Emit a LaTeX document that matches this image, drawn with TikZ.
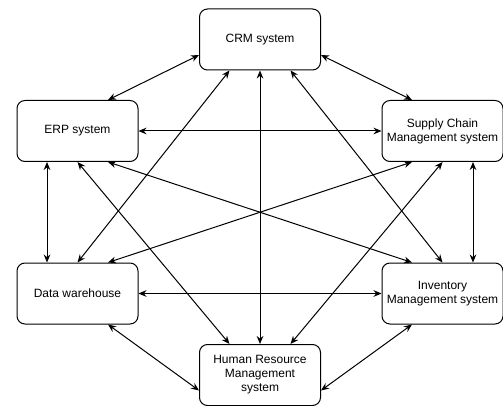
\documentclass[tikz,border=0pt]{standalone}
\usepackage{fontspec}
\setmainfont{Liberation Sans}
\usetikzlibrary{arrows.meta,calc}

\begin{document}
\begin{tikzpicture}[x=0.75pt,y=-0.75pt,line width=0.75pt,
  sysbox/.style={draw, rounded corners=6pt, minimum width=90.75pt, minimum height=45.75pt,
    align=center, inner sep=1pt, font=\fontsize{9}{10.5}\selectfont},
  link/.style={{Stealth[length=6pt,width=5pt]}-{Stealth[length=6pt,width=5pt]}}]
  \useasboundingbox (0,0) rectangle (503,406);
  % systems
  \node[sysbox] (crm) at (260,39.5) {CRM system};
  \node[sysbox] (erp) at (77.5,131) {ERP system};
  \node[sysbox] (scm) at (442.5,131) {Supply Chain\\Management system};
  \node[sysbox] (dw)  at (77.5,293.5) {Data warehouse};
  \node[sysbox] (inv) at (442.5,293.5) {Inventory\\Management system};
  \node[sysbox] (hrm) at (260,375) {Human Resource\\Management\\system};
  % outer ring
  \draw[link] ($(crm.north west)!.75!(crm.south west)$) -- ($(erp.north west)!.75!(erp.north east)$);
  \draw[link] ($(crm.north east)!.75!(crm.south east)$) -- ($(scm.north west)!.25!(scm.north east)$);
  \draw[link] (erp.east) -- (scm.west);
  \draw[link] ($(erp.south west)!.25!(erp.south east)$) -- ($(dw.north west)!.25!(dw.north east)$);
  \draw[link] ($(scm.south west)!.75!(scm.south east)$) -- ($(inv.north west)!.75!(inv.north east)$);
  \draw[link] (dw.east) -- (inv.west);
  \draw[link] ($(dw.south west)!.75!(dw.south east)$) -- ($(hrm.north west)!.75!(hrm.south west)$);
  \draw[link] ($(inv.south west)!.25!(inv.south east)$) -- ($(hrm.north east)!.75!(hrm.south east)$);
  % cross links
  \draw[link] (crm.south) -- (hrm.north);
  \draw[link] ($(crm.south west)!.25!(crm.south east)$) -- (dw.north);
  \draw[link] ($(crm.south west)!.75!(crm.south east)$) -- (inv.north);
  \draw[link] (erp.south) -- ($(hrm.north west)!.25!(hrm.north east)$);
  \draw[link] (scm.south) -- ($(hrm.north west)!.75!(hrm.north east)$);
  \draw[link] ($(erp.south west)!.75!(erp.south east)$) -- ($(inv.north west)!.25!(inv.north east)$);
  \draw[link] ($(scm.south west)!.25!(scm.south east)$) -- ($(dw.north west)!.75!(dw.north east)$);
\end{tikzpicture}
\end{document}
